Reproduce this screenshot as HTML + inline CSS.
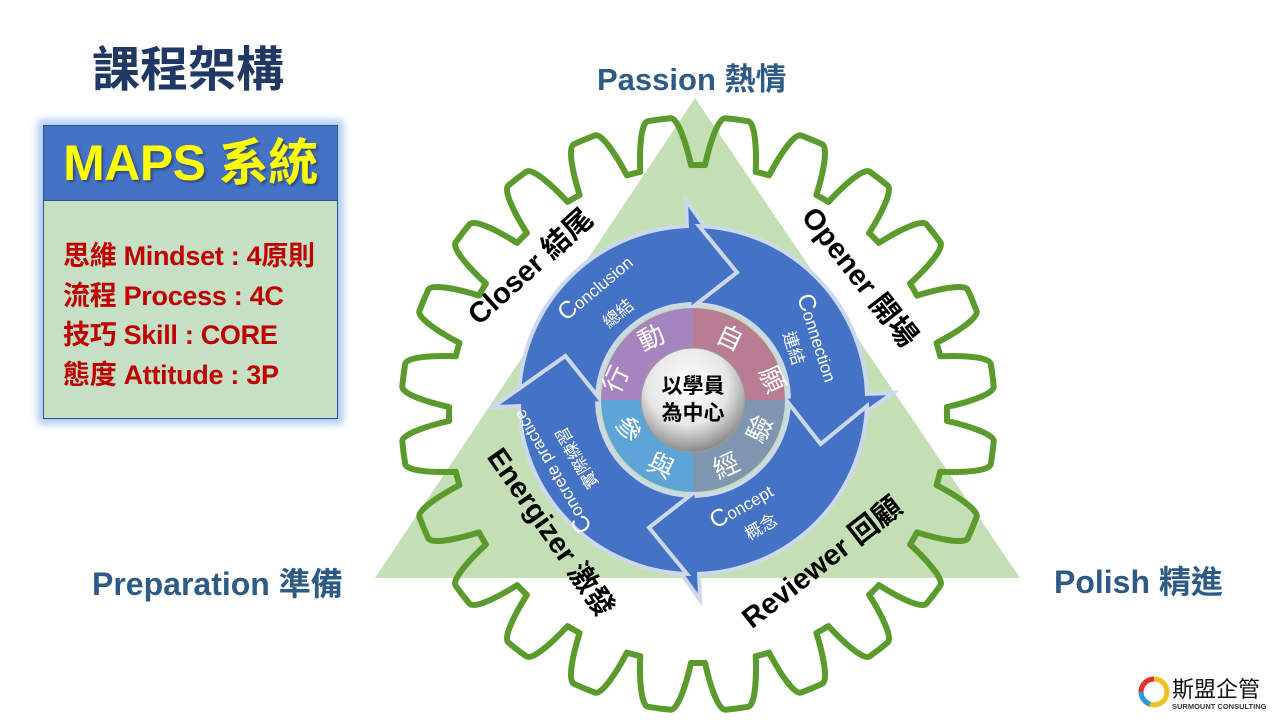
<!DOCTYPE html>
<html><head><meta charset="utf-8">
<style>
body{margin:0;width:1280px;height:720px;background:#fff;overflow:hidden;position:relative;font-family:"Liberation Sans","Noto Sans CJK TC",sans-serif;}
.t{position:absolute;font-weight:bold;white-space:nowrap;}
#box{position:absolute;left:43px;top:125px;width:293px;height:292px;border:1px solid #2f528f;background:#c5e0c5;box-shadow:0 0 8px 5px #a9c8ef;}
#hdr{height:74px;background:#4472c4;border-bottom:1px solid #2f528f;color:#ffff00;font-weight:bold;font-size:50px;text-align:center;line-height:74px;text-shadow:2px 2px 2px rgba(0,0,0,.35);letter-spacing:-0.5px;}
.ln{position:absolute;left:19px;color:#c00000;font-weight:bold;font-size:27px;letter-spacing:-0.3px;}
svg{position:absolute;left:0;top:0}
</style></head><body>
<div class="t" style="left:92px;top:30px;font-size:48px;color:#1f3864;">課程架構</div>
<div class="t" style="left:597px;top:54px;font-size:31px;color:#2e5b86;">Passion 熱情</div>
<div class="t" style="left:92px;top:559px;font-size:32px;color:#2e5b86;">Preparation 準備</div>
<div class="t" style="left:1054px;top:557px;font-size:32px;color:#2e5b86;">Polish 精進</div>
<div id="box"><div id="hdr">MAPS 系統</div>
<div class="ln" style="top:108px">思維 Mindset : 4原則</div>
<div class="ln" style="top:148px">流程 Process : 4C</div>
<div class="ln" style="top:187px">技巧 Skill : CORE</div>
<div class="ln" style="top:227px">態度 Attitude : 3P</div>
</div>
<svg id="s" width="1280" height="720" viewBox="0 0 1280 720">
<defs>
<radialGradient id="wg" cx="45%" cy="35%" r="65%"><stop offset="0" stop-color="#ffffff"/><stop offset=".6" stop-color="#e6e6e6"/><stop offset="1" stop-color="#8a8a8a"/></radialGradient>
</defs>
<polygon points="695,98 1020,578 375,578" fill="#c5dfb4"/>
<path id="gear" fill="none" stroke="#5b9b2d" stroke-width="6" stroke-linejoin="round"/>
<g id="arrows"></g>
<g id="disk"></g>
<g font-family="Liberation Sans,Noto Sans CJK TC,sans-serif" font-weight="bold" font-size="29" fill="#000" text-anchor="middle">
<text transform="translate(537,274) rotate(-42)">Closer 結尾</text>
<text transform="translate(852,283) rotate(52)">Opener 開場</text>
<text transform="translate(543,538) rotate(55)">Energizer 激發</text>
<text transform="translate(828,570) rotate(-38)">Reviewer 回顧</text>
</g>
<g font-family="Liberation Sans,Noto Sans CJK TC,sans-serif" fill="#fff" text-anchor="middle" font-size="17">
<text transform="translate(600,293) rotate(-40)"><tspan font-size="24">C</tspan>onclusion</text>
<text transform="translate(622,318) rotate(-40)">總結</text>
<text transform="translate(811,340) rotate(72)"><tspan font-size="24">C</tspan>onnection</text>
<text transform="translate(788,350) rotate(72)">連結</text>
<text transform="translate(745,512) rotate(-30)"><tspan font-size="24">C</tspan>oncept</text>
<text transform="translate(764,532) rotate(-30)">概念</text>
<text transform="translate(558,468) rotate(240)"><tspan font-size="24">C</tspan>oncrete practice</text>
<text transform="translate(582,455) rotate(240)">實際練習</text>
</g>
<g font-family="Liberation Sans,Noto Sans CJK TC,sans-serif" fill="#fff" text-anchor="middle" font-size="26">
<text transform="translate(624,383) rotate(-65)">行</text>
<text transform="translate(655,346) rotate(-25)">動</text>
<text transform="translate(726,346) rotate(25)">自</text>
<text transform="translate(764,383) rotate(65)">願</text>
<text transform="translate(768,433) rotate(-65)">驗</text>
<text transform="translate(730,474) rotate(-25)">經</text>
<text transform="translate(657,474) rotate(25)">與</text>
<text transform="translate(620,433) rotate(65)">參</text>
</g>
<circle cx="693" cy="400" r="52" fill="url(#wg)" stroke="#9a9a9a" stroke-width="1"/>
<text x="693" y="393" text-anchor="middle" font-family="Liberation Sans,Noto Sans CJK TC,sans-serif" font-weight="bold" font-size="21">以學員</text>
<text x="693" y="420" text-anchor="middle" font-family="Liberation Sans,Noto Sans CJK TC,sans-serif" font-weight="bold" font-size="21">為中心</text>
<g transform="translate(1138,673)">
<circle cx="16" cy="19" r="13" fill="none" stroke="#f0c020" stroke-width="5"/>
<path d="M16 6 A13 13 0 0 0 3 19" fill="none" stroke="#e03030" stroke-width="5"/>
<path d="M3 19 A13 13 0 0 0 12 31" fill="none" stroke="#2a9ad8" stroke-width="5"/>
<text x="34" y="24" font-family="Noto Sans CJK TC,sans-serif" font-size="22" fill="#111">斯盟企管</text>
<text x="34" y="36" font-family="Liberation Sans,sans-serif" font-size="7.5" font-weight="bold" fill="#333">SURMOUNT CONSULTING</text>
</g>
</svg>
<script>
(function(){
var cx=698,cy=414,R=297,r=249,N=24,d="";
function p(a,rad){a=a*Math.PI/180;return (cx+rad*Math.cos(a)).toFixed(1)+" "+(cy+rad*Math.sin(a)).toFixed(1);}
d="M"+p(-90-1.6,r)+" ";
for(var i=0;i<N;i++){
 var c=-90+7.5+i*15;
 d+="A"+r+" "+r+" 0 0 1 "+p(c-5.9,r)+" ";
 d+="C"+p(c-5.0,r+22)+" "+p(c-3.6,R)+" "+p(c-2.2,R)+" ";
 d+="A"+R+" "+R+" 0 0 1 "+p(c+2.2,R)+" ";
 d+="C"+p(c+3.6,R)+" "+p(c+5.0,r+22)+" "+p(c+5.9,r)+" ";
}
document.getElementById("gear").setAttribute("d",d+"Z");
var ax=693,ay=400,ri=96,ro=174,rm=(ri+ro)/2,g="";
function q(a,rad){var t=a*Math.PI/180;return (ax+rad*Math.cos(t)).toFixed(1)+" "+(ay+rad*Math.sin(t)).toFixed(1);}
for(var k=0;k<4;k++){
 var B=-92+90*k,T=B-86;
 var s="M"+q(T,ro)+" A"+ro+" "+ro+" 0 0 1 "+q(B,ro)+" L"+q(B,200)+" L"+q(B+21,rm)+" L"+q(B,ri-6)+" L"+q(B,ri)+" A"+ri+" "+ri+" 0 0 0 "+q(T,ri)+" L"+q(T+17,rm)+" Z";
 g+='<path d="'+s+'" fill="#4472c4" stroke="#cdd8ee" stroke-width="4" stroke-linejoin="miter"/>';
}
document.getElementById("arrows").innerHTML=g;
var cols=["#5ea4d6","#a584c0","#b87d93","#7f96b0"],h="";
var angs=[[90,180],[180,270],[270,360],[0,90]];
for(var j=0;j<4;j++){
 var a0=angs[j][0],a1=angs[j][1];
 h+='<path d="M'+ax+' '+ay+' L'+q(a0,92)+' A92 92 0 0 1 '+q(a1,92)+' Z" fill="'+cols[j]+'"/>';
}
document.getElementById("disk").innerHTML=h;
})();
</script>
</body></html>
